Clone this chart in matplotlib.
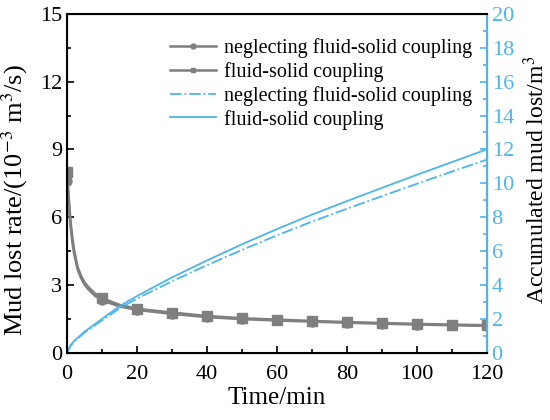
import matplotlib.pyplot as plt
from matplotlib.ticker import MultipleLocator

plt.rcParams['font.family'] = ['Liberation Serif', 'DejaVu Serif']
plt.rcParams['mathtext.fontset'] = 'stix'

# mud lost rate (10^-3 m3/s)
t_rate = [0, 0.3, 0.6, 1, 1.5, 2, 3, 4, 5, 6, 8, 10, 15, 20, 30, 40, 50, 60, 70, 80, 90, 100, 110, 120]
rate_neglect = [7.6, 7.0, 6.3, 5.6, 4.9, 4.4, 3.7, 3.3, 3.02, 2.82, 2.52, 2.32, 2.05, 1.9,
                1.72, 1.58, 1.49, 1.43, 1.38, 1.33, 1.29, 1.25, 1.22, 1.19]
rate_coupled = [8.0, 7.3, 6.6, 5.8, 5.1, 4.55, 3.8, 3.4, 3.12, 2.92, 2.62, 2.42, 2.12, 1.95,
                1.78, 1.63, 1.53, 1.47, 1.41, 1.36, 1.32, 1.28, 1.25, 1.22]
mark_idx = [0, 11, 13, 14, 15, 16, 17, 18, 19, 20, 21, 22, 23]

# accumulated mud lost (m3)
t_acc = [0, 1, 2, 5, 10, 15, 20, 30, 40, 50, 60, 70, 80, 90, 100, 110, 120]
acc_neglect = [0, 0.42, 0.65, 1.2, 1.92, 2.62, 3.2, 4.22, 5.17, 6.07, 6.93, 7.74, 8.5,
               9.24, 9.97, 10.69, 11.4]
acc_coupled = [0, 0.45, 0.7, 1.25, 2.0, 2.75, 3.35, 4.45, 5.45, 6.4, 7.3, 8.15, 8.95,
               9.73, 10.5, 11.25, 12.0]

gray = '#7f7f7f'
blue = '#4db4ec'

fig, ax = plt.subplots(figsize=(5.5, 4.2), dpi=100)
fig.subplots_adjust(left=0.122, right=0.885, top=0.967, bottom=0.16)
ax2 = ax.twinx()

l1, = ax.plot(t_rate, rate_neglect, color=gray, lw=1.8, marker='o', ms=6.5,
              markevery=mark_idx, label='neglecting fluid-solid coupling')
l2, = ax.plot(t_rate, rate_coupled, color=gray, lw=1.8, marker='s', ms=6.5,
              markevery=mark_idx, label='fluid-solid coupling')
l3, = ax2.plot(t_acc, acc_neglect, color=blue, lw=1.3, ls='-.',
               label='neglecting fluid-solid coupling')
l4, = ax2.plot(t_acc, acc_coupled, color=blue, lw=1.3, ls='-',
               label='fluid-solid coupling')

ax.set_xlim(0, 120)
ax.set_ylim(0, 15)
ax2.set_ylim(0, 20)
ax.xaxis.set_major_locator(MultipleLocator(20))
ax.xaxis.set_minor_locator(MultipleLocator(10))
ax.yaxis.set_major_locator(MultipleLocator(3))
ax.yaxis.set_minor_locator(MultipleLocator(1.5))
ax2.yaxis.set_major_locator(MultipleLocator(2))
ax2.yaxis.set_minor_locator(MultipleLocator(1))

ax.tick_params(which='both', direction='in', labelsize=16, width=1.2)
ax.tick_params(which='major', length=5)
ax.tick_params(which='minor', length=3)
ax.tick_params(axis='x', pad=9)
ax2.tick_params(which='both', direction='in', labelsize=16, colors=blue, width=1.2)
ax2.tick_params(which='major', length=5)
ax2.tick_params(which='minor', length=3)

for s in ['left', 'bottom', 'top']:
    ax2.spines[s].set_linewidth(1.5)
ax2.spines['right'].set_color(blue)
ax2.spines['right'].set_linewidth(1.5)

ax.set_xlabel('Time/min', fontsize=18, labelpad=2)
ax.set_ylabel('Mud lost rate/(10$^{-3}$ m$^3$/s)', fontsize=19)
ax.yaxis.set_label_coords(-0.088, 0.45)
ax2.set_ylabel('Accumulated mud lost/m$^3$', fontsize=17, color='black')
ax2.yaxis.set_label_coords(1.088, 0.51)

ax2.legend(handles=[l1, l2, l3, l4], loc='upper right', bbox_to_anchor=(0.995, 0.965),
           frameon=False, fontsize=14.5, handlelength=2.3, labelspacing=0.2,
           handletextpad=0.4, borderaxespad=0.2, markerscale=0.55)

fig.savefig('out.png', dpi=100)
